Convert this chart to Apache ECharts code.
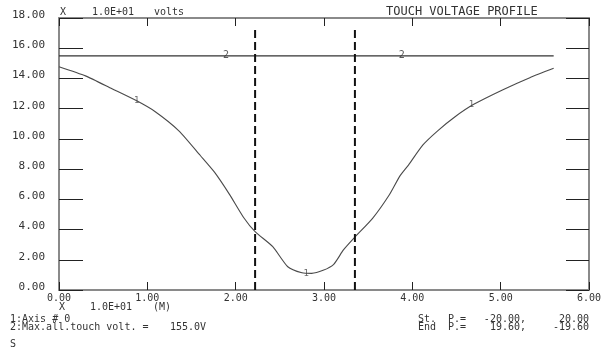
<!DOCTYPE html>
<html>
<head>
<meta charset="utf-8">
<script src="https://cdn.jsdelivr.net/npm/echarts@6/dist/echarts.min.js"></script>
<style>
html,body{margin:0;padding:0;background:#fff;}
#chart{width:606px;height:349px;}
</style>
</head>
<body>
<div id="chart"></div>
<script>
// Distance along the profile (x 1.0E+01 m) and touch voltage (x 1.0E+01 volts)
const distance = [0, 0.3, 0.6, 0.88, 1.09, 1.36, 1.6, 1.76, 1.93, 2.09, 2.22, 2.42, 2.59, 2.75, 2.86, 2.99, 3.11, 3.22, 3.35, 3.55, 3.74, 3.86, 3.96, 4.12, 4.29, 4.48, 4.69, 5.02, 5.33, 5.6];
const touchVoltage = [14.78, 14.17, 13.32, 12.52, 11.8, 10.52, 8.9, 7.8, 6.33, 4.8, 3.86, 2.87, 1.54, 1.14, 1.1, 1.3, 1.7, 2.65, 3.5, 4.74, 6.3, 7.55, 8.3, 9.6, 10.55, 11.45, 12.27, 13.24, 14.05, 14.67];
// Max allowable touch voltage (155.0 V) line
const maxLineX = [0, 5.6];
const maxLineY = [15.5, 15.5];
// Curve id labels
const label1X = [0.88, 2.8, 4.67];
const label1Y = [12.5, 1.1, 12.28];
const label2X = [1.89, 3.88];
// Vertical dashed markers
const markerX = [2.22, 3.35];
const markerTop = 17.3;
// Axis ticks
const xTicks = [0, 1, 2, 3, 4, 5, 6];
const yTicks = [0, 2, 4, 6, 8, 10, 12, 14, 16, 18];

const FONT = '"DejaVu Sans Mono", monospace';
const chart = echarts.init(document.getElementById('chart'), null, {renderer: 'canvas'});

const axisLineStyle = {color: '#8a8a8a', width: 2};
const tickStyle = {color: '#222', width: 1};

const series = [];
series.push({
  type: 'line', name: 'touch', xAxisIndex: 0, yAxisIndex: 0,
  data: distance.map((d, i) => [d, touchVoltage[i]]),
  symbol: 'none', smooth: 0.2,
  lineStyle: {color: '#4a4a4a', width: 1.1}, z: 3
});
series.push({
  type: 'line', name: 'max', xAxisIndex: 0, yAxisIndex: 0,
  data: maxLineX.map((d, i) => [d, maxLineY[i]]),
  symbol: 'none',
  lineStyle: {color: '#333', width: 1.2}, z: 3
});
markerX.forEach(mx => {
  series.push({
    type: 'line', xAxisIndex: 0, yAxisIndex: 0,
    data: [[mx, 0], [mx, markerTop]],
    symbol: 'none',
    lineStyle: {color: '#111', width: 2, type: [8, 4]}, z: 4
  });
});
series.push({
  type: 'scatter', xAxisIndex: 0, yAxisIndex: 0,
  data: label1X.map((d, i) => [d, label1Y[i]]),
  symbolSize: 0,
  label: {show: true, position: 'inside', formatter: '1', color: '#444', fontSize: 9, fontFamily: FONT},
  z: 5
});
series.push({
  type: 'scatter', xAxisIndex: 0, yAxisIndex: 0,
  data: label2X.map(d => [d, maxLineY[0]]),
  symbolSize: 0,
  label: {show: true, position: 'inside', formatter: '2', color: '#333', fontSize: 10, fontFamily: FONT},
  z: 5
});

function txt(x, y, s, size, align) {
  return {type: 'text', x: x, y: y,
    style: {text: s, fill: '#333', font: (size || 10) + 'px ' + FONT, textAlign: align || 'left', textVerticalAlign: 'middle'}};
}

const option = {
  animation: false,
  backgroundColor: '#fff',
  grid: {left: 59, right: 17, top: 18, bottom: 59, containLabel: false},
  xAxis: [
    {type: 'value', position: 'bottom', min: xTicks[0], max: xTicks[xTicks.length - 1], interval: 1,
      axisLine: {show: true, lineStyle: axisLineStyle},
      axisTick: {show: true, inside: true, length: 8, lineStyle: tickStyle},
      axisLabel: {show: true, margin: 3, formatter: v => v.toFixed(2), color: '#333', fontSize: 10, fontFamily: FONT},
      splitLine: {show: false}},
    {type: 'value', position: 'top', min: xTicks[0], max: xTicks[xTicks.length - 1], interval: 1,
      axisLine: {show: true, onZero: false, lineStyle: axisLineStyle},
      axisTick: {show: true, inside: true, length: 8, lineStyle: tickStyle},
      axisLabel: {show: false}, splitLine: {show: false}}
  ],
  yAxis: [
    {type: 'value', position: 'left', min: yTicks[0], max: yTicks[yTicks.length - 1], interval: 2,
      axisLine: {show: true, lineStyle: axisLineStyle},
      axisTick: {show: true, inside: true, length: 24, lineStyle: tickStyle},
      axisLabel: {show: true, margin: 14, verticalAlign: 'bottom', lineHeight: 6, formatter: v => v.toFixed(2), color: '#333', fontSize: 11, fontFamily: FONT},
      splitLine: {show: false}},
    {type: 'value', position: 'right', min: yTicks[0], max: yTicks[yTicks.length - 1], interval: 2,
      axisLine: {show: true, onZero: false, lineStyle: axisLineStyle},
      axisTick: {show: true, inside: true, length: 23, lineStyle: tickStyle},
      axisLabel: {show: false}, splitLine: {show: false}}
  ],
  series: series,
  graphic: [
    txt(60, 12, 'X', 10),
    txt(92, 12, '1.0E+01', 10),
    txt(154, 12, 'volts', 10),
    txt(386, 12, 'TOUCH VOLTAGE PROFILE', 12),
    txt(59, 307, 'X', 10),
    txt(90, 307, '1.0E+01', 10),
    txt(153, 307, '(M)', 10),
    txt(10, 319, '1:Axis # 0', 10),
    txt(10, 327, '2:Max.all.touch volt. =', 10),
    txt(170, 327, '155.0V', 10),
    txt(418, 319, 'St.', 10),
    txt(448, 319, 'P.=', 10),
    txt(526, 319, '-20.00,', 10, 'right'),
    txt(589, 319, '20.00', 10, 'right'),
    txt(418, 327, 'End', 10),
    txt(448, 327, 'P.=', 10),
    txt(526, 327, '19.60,', 10, 'right'),
    txt(589, 327, '-19.60', 10, 'right'),
    txt(10, 344, 'S', 10)
  ]
};
chart.setOption(option);
</script>
</body>
</html>
